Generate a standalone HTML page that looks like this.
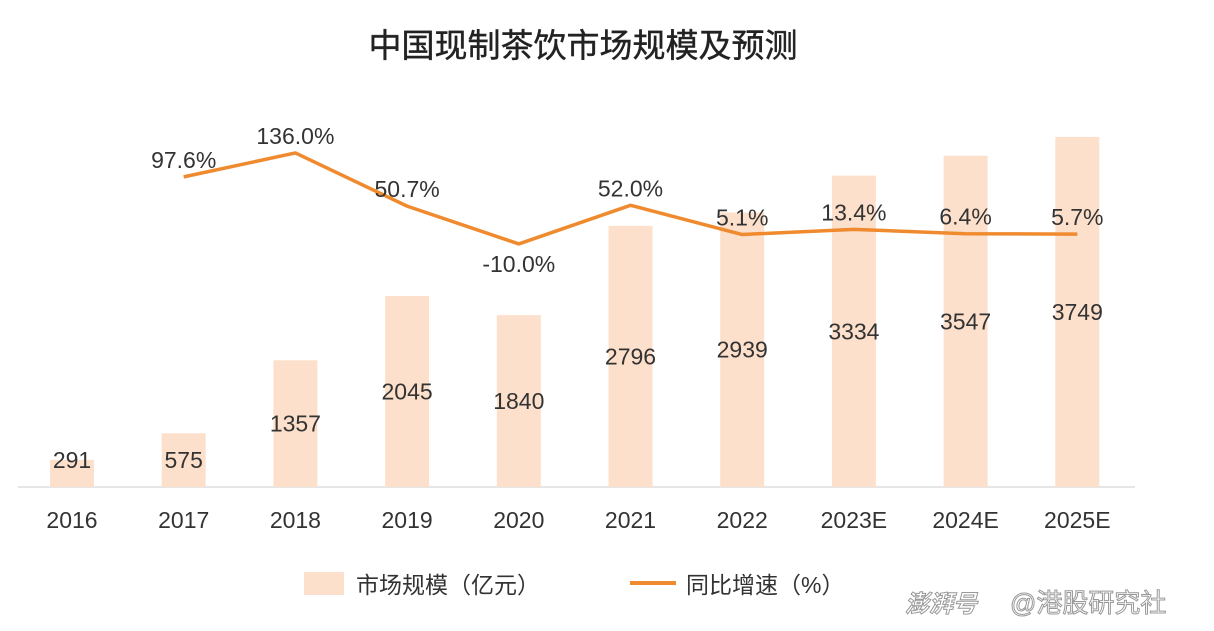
<!DOCTYPE html>
<html><head><meta charset="utf-8">
<style>
html,body{margin:0;padding:0;background:#fff;}
body{width:1214px;height:626px;overflow:hidden;font-family:"Liberation Sans","Noto Sans CJK SC",sans-serif;}
</style></head>
<body>
<svg width="1214" height="626" xmlns="http://www.w3.org/2000/svg" font-family="Liberation Sans, Noto Sans CJK SC, sans-serif">
<text x="583" y="57" text-anchor="middle" font-size="33" fill="#222" stroke="#222" stroke-width="0.4">中国现制茶饮市场规模及预测</text>
<line x1="18" y1="487" x2="1135" y2="487" stroke="#ddd" stroke-width="1.5"/>
<g id="bars"></g>
<g id="line"></g>
<g id="xl"></g>
<rect x="304" y="572" width="40" height="23" fill="#fde0cb"/>
<text x="356" y="593" font-size="23" fill="#333">市场规模（亿元）</text>
<line x1="630" y1="583" x2="676" y2="583" stroke="#f08a2e" stroke-width="4"/>
<text x="686" y="593" font-size="23" fill="#333">同比增速（%）</text>
<text x="905" y="612" font-size="24" font-style="italic" font-weight="bold" fill="#fff" stroke="#999" stroke-width="1">澎湃号</text>
<text x="1010" y="612" font-size="26" fill="#fff" stroke="#999" stroke-width="1">@港股研究社</text>
</svg>
<script>
const categories=["2016","2017","2018","2019","2020","2021","2022","2023E","2024E","2025E"];
const marketSize=[291,575,1357,2045,1840,2796,2939,3334,3547,3749];
const growth=[null,97.6,136.0,50.7,-10.0,52.0,5.1,13.4,6.4,5.7];
const growthLabels=["","97.6%","136.0%","50.7%","-10.0%","52.0%","5.1%","13.4%","6.4%","5.7%"];
const NS="http://www.w3.org/2000/svg";
const xc=i=>72+i*111.7;
const yb=v=>487-v*0.0934;
const yl=v=>237.7-v*0.623;
function mk(tag,attrs,parent){const e=document.createElementNS(NS,tag);for(const k in attrs)e.setAttribute(k,attrs[k]);parent.appendChild(e);return e;}
const bars=document.getElementById('bars'),line=document.getElementById('line'),xl=document.getElementById('xl');
categories.forEach((c,i)=>{
  const top=yb(marketSize[i]);
  const r=mk('rect',{x:xc(i)-22,y:top,width:44,height:487-top,fill:'#fde0cb'},bars);
  
  
  const ly=Math.min((top+487)/2,460)+8;
  const t=mk('text',{x:xc(i),y:ly,'text-anchor':'middle','font-size':23,fill:'#333'},bars);
  t.textContent=marketSize[i];
  
  
  const xt=mk('text',{x:xc(i),y:528,'text-anchor':'middle','font-size':23,fill:'#333'},xl);
  xt.textContent=c;
  
  
});
let pts=[];
growth.forEach((g,i)=>{if(g!==null)pts.push(xc(i)+','+yl(g));});
const pl=mk('polyline',{points:pts.join(' '),fill:'none',stroke:'#f08a2e','stroke-width':3.5,'stroke-linejoin':'round'},line);


growth.forEach((g,i)=>{
  if(g===null)return;
  const below=g<0;
  const t=mk('text',{x:xc(i),y:below?yl(g)+28:yl(g)-9,'text-anchor':'middle','font-size':23,fill:'#333'},line);
  t.textContent=growthLabels[i];
  
  
});
</script>
</body></html>
